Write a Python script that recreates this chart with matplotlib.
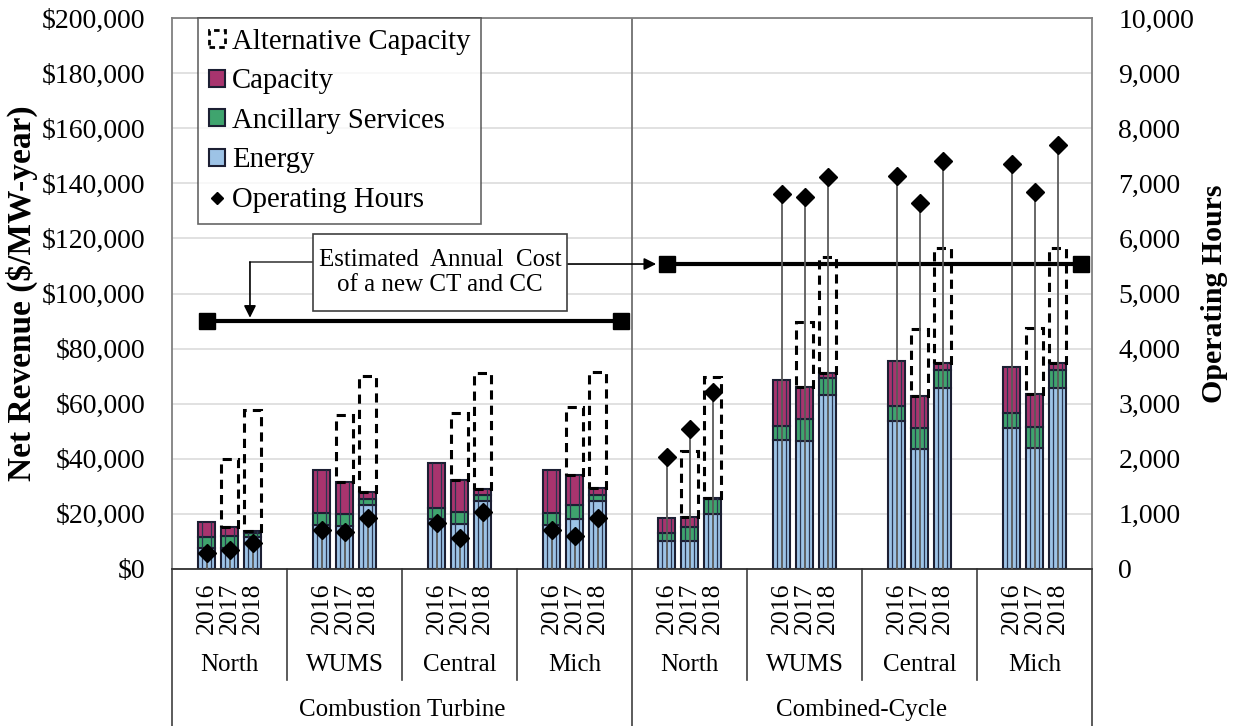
import numpy as np
import matplotlib
matplotlib.use("Agg")
import matplotlib.pyplot as plt
from matplotlib.patches import Patch, Rectangle
from matplotlib.lines import Line2D
from matplotlib.ticker import FuncFormatter, MultipleLocator
import matplotlib.transforms as mtransforms

plt.rcParams['font.family'] = ['Liberation Serif', 'DejaVu Serif']

# ---------------- data ----------------
technologies = ['Combustion Turbine', 'Combined-Cycle']
regions = ['North', 'WUMS', 'Central', 'Mich']
years = ['2016', '2017', '2018']

# order: CT (North, WUMS, Central, Mich) then CC (North, WUMS, Central, Mich), 3 years each
energy = [7600, 7500, 11500, 16000, 15600, 23200, 18000, 16200, 24700, 16000, 18100, 24800,
          10300, 10300, 19800, 46800, 46600, 63200, 53700, 43400, 65800, 51100, 43800, 65600]
ancillary = [4100, 4500, 1400, 4200, 4300, 2100, 4300, 4600, 2200, 4200, 5100, 2100,
             2900, 5100, 5600, 5100, 7700, 6000, 5500, 7700, 6400, 5400, 7900, 6600]
capacity = [5500, 3400, 900, 15700, 11800, 2800, 16300, 11500, 2000, 15700, 10900, 2600,
            5200, 3400, 400, 16700, 11600, 2100, 16400, 11700, 2500, 16700, 11800, 2500]
alt_capacity = [0, 24400, 43800, 0, 24200, 41900, 0, 24200, 42100, 0, 24800, 42100,
                0, 24100, 43800, 0, 23900, 42100, 0, 24300, 41900, 0, 24100, 41900]
operating_hours = [290, 345, 477, 708, 677, 920, 829, 557, 1040, 708, 605, 920,
                   2040, 2535, 3218, 6806, 6757, 7120, 7138, 6648, 7410, 7350, 6848, 7695]
annual_cost = [90000, 110700]  # CT, CC
annotation_text = "Estimated  Annual  Cost\nof a new CT and CC"

# ---------------- styles ----------------
c_energy = '#9DC3E6'
c_as = '#3FA46E'
c_cap = '#A8346E'
c_edge = '#1C1F33'

energy = np.array(energy, float)
ancillary = np.array(ancillary, float)
capacity = np.array(capacity, float)
alt_capacity = np.array(alt_capacity, float)
operating_hours = np.array(operating_hours, float)

n_groups = len(technologies) * len(regions)
slots = 5
x = np.array([slots * g + 1 + yi for g in range(n_groups) for yi in range(len(years))], float)
bw = 0.74

W, H = 1234, 726
fig = plt.figure(figsize=(W / 100, H / 100), dpi=100)
ax = fig.add_axes([172 / W, 1 - 569 / H, 920 / W, 551 / H])

ax.set_xlim(-0.5, n_groups * slots - 0.5)
ax.set_ylim(0, 200000)
ax.yaxis.set_major_locator(MultipleLocator(20000))
ax.yaxis.set_major_formatter(FuncFormatter(lambda v, p: '${:,.0f}'.format(v)))
ax.grid(axis='y', color='#DCDCDC', lw=1.2, zorder=0)
ax.set_axisbelow(True)
ax.set_xticks([])
ax.tick_params(axis='y', length=0, pad=19, labelsize=20)
for s in ['left', 'right', 'top']:
    ax.spines[s].set_color('#808080')
    ax.spines[s].set_linewidth(1.3)
ax.spines['bottom'].set_color('#303030')
ax.spines['bottom'].set_linewidth(1.3)

# CT / CC divider
ax.axvline(len(regions) * slots - 0.5, color='#707070', lw=1.3, zorder=1)

# stacked bars
ax.bar(x, energy, bw, color=c_energy, edgecolor=c_edge, lw=1.5, zorder=2)
ax.bar(x, ancillary, bw, bottom=energy, color=c_as, edgecolor=c_edge, lw=1.5, zorder=2)
ax.bar(x, capacity, bw, bottom=energy + ancillary, color=c_cap, edgecolor=c_edge, lw=1.5, zorder=2)
total = energy + ancillary + capacity
# thin inner lines in the bars
ax.vlines(np.concatenate([x - 0.2, x + 0.2]), 0, np.concatenate([total, total]),
          color='#2A3550', lw=0.9, zorder=3)
m = alt_capacity > 0
ax.bar(x[m], alt_capacity[m], bw, bottom=total[m], fill=False, edgecolor='black',
       lw=2.2, linestyle=(0, (3, 2)), zorder=3)

# annual cost lines
for i, cost in enumerate(annual_cost):
    x0 = i * len(regions) * slots + 1
    x1 = (i + 1) * len(regions) * slots - 1
    ax.plot([x0, x1], [cost, cost], color='black', lw=3, marker='s', markersize=11, zorder=5)

# annotation box and connectors
bx0, bx1, by0, by1 = 5.63, 16.67, 93600, 121600
ax.add_patch(Rectangle((bx0, by0), bx1 - bx0, by1 - by0, facecolor='white',
                       edgecolor='#404040', lw=1.2, zorder=6))
ax.text((bx0 + bx1) / 2, (by0 + by1) / 2, annotation_text, ha='center', va='center',
        fontsize=18, linespacing=1.15, zorder=7)
ly = 111400
ax.plot([bx0, 2.89], [ly, ly], color='#404040', lw=1.2, zorder=5)
ax.annotate('', xy=(2.89, annual_cost[0] + 1200), xytext=(2.89, ly),
            arrowprops=dict(arrowstyle='-|>', color='black', lw=1.2, mutation_scale=18,
                            shrinkA=0, shrinkB=0), zorder=5)
ax.annotate('', xy=(len(regions) * slots + 0.55, annual_cost[1]), xytext=(bx1, annual_cost[1]),
            arrowprops=dict(arrowstyle='-|>', color='black', lw=1.2, mutation_scale=18,
                            shrinkA=0, shrinkB=0), zorder=5)

# operating hours on secondary axis
ax2 = ax.twinx()
ax2.set_ylim(0, 10000)
ax2.yaxis.set_major_locator(MultipleLocator(1000))
ax2.yaxis.set_major_formatter(FuncFormatter(lambda v, p: '{:,.0f}'.format(v)))
ax2.tick_params(axis='y', length=0, pad=19, labelsize=20)
for s in ax2.spines.values():
    s.set_visible(False)
ax2.vlines(x, 0, operating_hours, color='#5A5A5A', lw=1.3, zorder=3)
ax2.plot(x, operating_hours, linestyle='none', marker='D', color='black', markersize=9.5, zorder=4)

ax.set_ylabel('Net Revenue ($/MW-year)', fontsize=24, fontweight='bold', labelpad=3)
ax2.set_ylabel('Operating Hours', fontsize=21.5, fontweight='bold', labelpad=5)

# category labels below the axis
trans = mtransforms.blended_transform_factory(ax.transData, ax.transAxes)
for i, xi in enumerate(x):
    ax.text(xi, -0.071, years[i % 3], rotation=90, ha='center', va='center',
            fontsize=18.5, transform=trans, clip_on=False)
for g in range(n_groups):
    ax.text(slots * g + 2, -0.174, regions[g % len(regions)], ha='center', va='center',
            fontsize=18, transform=trans, clip_on=False)
for t, name in enumerate(technologies):
    ax.text(t * len(regions) * slots + len(regions) * slots / 2 - 0.5, -0.256, name,
            ha='center', va='center', fontsize=18, transform=trans, clip_on=False)
for g in range(1, n_groups):
    xs = slots * g - 0.5
    bottom = -0.285 if g % len(regions) == 0 else -0.2015
    ax.add_line(Line2D([xs, xs], [0, bottom], transform=trans, color='#404040', lw=1.2,
                       clip_on=False))
for xs in [-0.5, n_groups * slots - 0.5]:
    ax.add_line(Line2D([xs, xs], [0, -0.285], transform=trans, color='#404040', lw=1.2,
                       clip_on=False))

# legend
handles = [
    Patch(facecolor='none', edgecolor='black', linestyle=(0, (2, 1.5)), lw=2),
    Patch(facecolor=c_cap, edgecolor=c_edge, lw=1.5),
    Patch(facecolor=c_as, edgecolor=c_edge, lw=1.5),
    Patch(facecolor=c_energy, edgecolor=c_edge, lw=1.5),
    Line2D([], [], linestyle='none', marker='D', color='black', markersize=6.5),
]
labels = ['Alternative Capacity', 'Capacity', 'Ancillary Services', 'Energy', 'Operating Hours']
leg = ax2.legend(handles, labels, loc='upper left', bbox_to_anchor=(26 / 920, 1.0),
                 borderaxespad=0, fontsize=20.7, frameon=True, fancybox=False,
                 handlelength=0.55, handleheight=0.55, handletextpad=0.25,
                 labelspacing=0.47, borderpad=0.38)
leg.get_frame().set_edgecolor('#404040')
leg.get_frame().set_linewidth(1.2)
leg.set_zorder(10)

fig.savefig('out.png', dpi=100)
